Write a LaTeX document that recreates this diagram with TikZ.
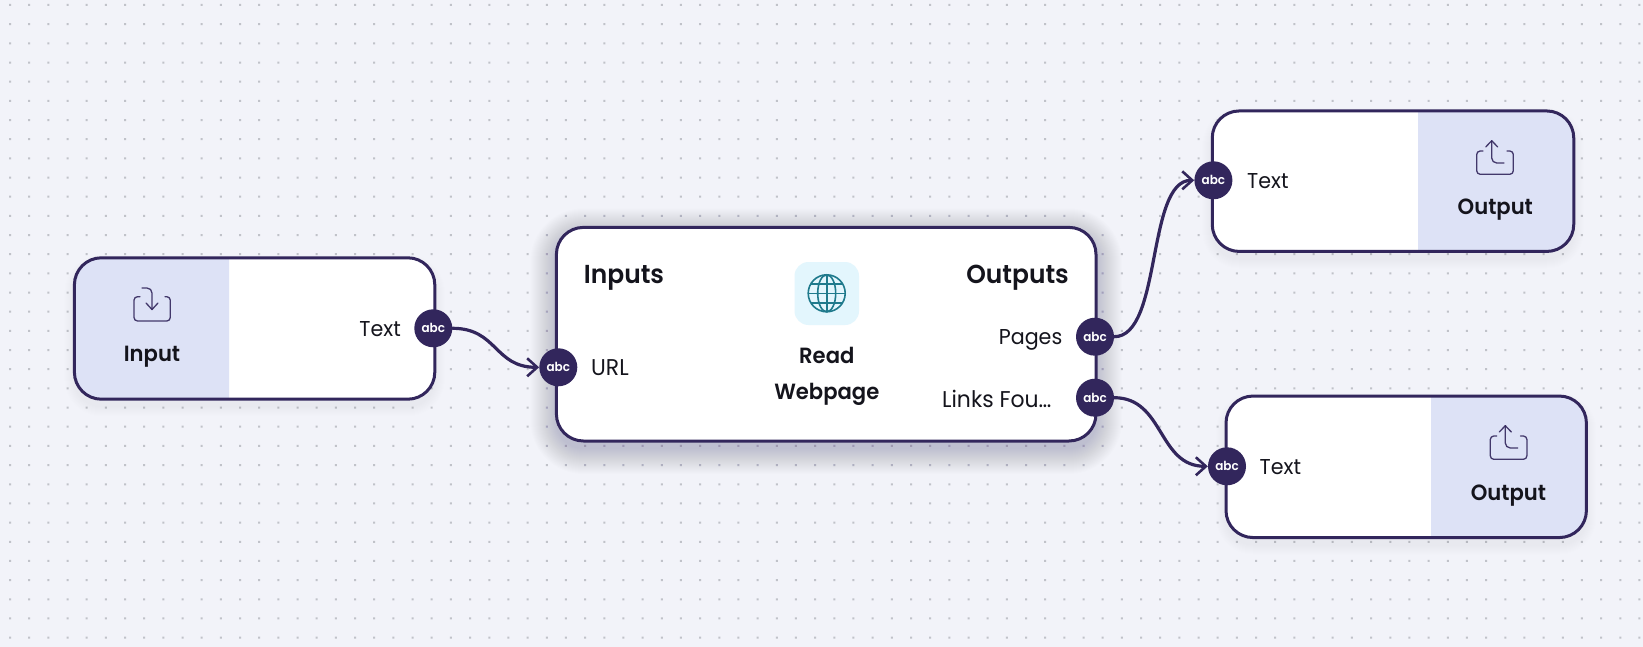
\documentclass[tikz,border=0pt]{standalone}
\usepackage{fontspec}
\setmainfont{Poppins}[FakeStretch=0.96,BoldFont=* SemiBold]
\usetikzlibrary{arrows.meta,calc}
\definecolor{bgc}{HTML}{F2F3F9}
\definecolor{ink}{HTML}{32265C}
\definecolor{panelc}{HTML}{DDE2F6}
\definecolor{dotc}{HTML}{C0C2C9}
\definecolor{tilec}{HTML}{E3F6FD}
\definecolor{globec}{HTML}{1F7A8C}
\definecolor{txt}{HTML}{14141C}
\newcommand{\softshadow}[6]{%
  \foreach \k in {1,...,#5}{%
    \fill[ink,opacity=#6,rounded corners=27+\k]
      ({#1-\k},{#2-\k+7}) rectangle ({#3+\k},{#4+\k+7});}}
\tikzset{
  card/.style={draw=ink,line width=3pt,rounded corners=27,inner sep=0pt,fill=none},
  port/.style={circle,fill=ink,text=white,minimum size=38pt,inner sep=0pt,font=\fontsize{12.5}{13}\selectfont\bfseries},
  lbl/.style={text=txt,inner sep=0pt,font=\fontsize{21.5}{23}\selectfont},
  lblw/.style={text=txt,inner sep=0pt,font=\fontsize{22.8}{24}\selectfont},
  head/.style={text=txt,inner sep=0pt,font=\fontsize{26}{28}\selectfont\bfseries},
  title/.style={text=txt,inner sep=0pt,font=\fontsize{22}{24}\selectfont\bfseries},
  wire/.style={draw=ink,line width=3.2pt,line cap=round},
  wirea/.style={wire,-{Straight Barb[length=10pt,width=18pt,line width=2.6pt]}},
  icon/.style={draw=ink,line width=1.3pt,line cap=round,line join=round,opacity=.9},
}
\begin{document}
\begin{tikzpicture}[x=1pt,y=-1pt]
\useasboundingbox (0,0) rectangle (1643,647);
\fill[bgc] (0,0) rectangle (1643,647);
% dots
\fill[dotc] \foreach \i in {0,...,85}{\foreach \j in {0,...,33}{
  ({10+19.17*\i-1},{5+19.17*\j-1}) rectangle ++(2,2)}};
% shadows
\softshadow{74.4}{257.8}{434.8}{399.2}{10}{0.004}
\softshadow{1212.3}{111}{1573.8}{251.5}{10}{0.004}
\softshadow{1226}{396}{1586.4}{537.5}{10}{0.004}
\softshadow{556.4}{227.4}{1096}{441}{26}{0.0065}
% card bodies
\fill[white,rounded corners=27] (74.4,257.8) rectangle (434.8,399.2);
\fill[white,rounded corners=27] (556.4,227.4) rectangle (1096,441);
\fill[white,rounded corners=27] (1212.3,111) rectangle (1573.8,251.5);
\fill[white,rounded corners=27] (1226,396) rectangle (1586.4,537.5);
% side panels
\fill[panelc] (229,257.8) -- (229,399.2) [rounded corners=27] -- (74.4,399.2) -- (74.4,257.8) [sharp corners] -- cycle;
\fill[panelc] (1418,111) -- (1418,251.5) [rounded corners=27] -- (1573.8,251.5) -- (1573.8,111) [sharp corners] -- cycle;
\fill[panelc] (1431,396) -- (1431,537.5) [rounded corners=27] -- (1586.4,537.5) -- (1586.4,396) [sharp corners] -- cycle;
% card outlines
\node[card,minimum width=360.4pt,minimum height=141.4pt] (inputcard) at (254.6,328.5) {};
\node[card,minimum width=539.6pt,minimum height=213.6pt] (readcard) at (826.2,334.2) {};
\node[card,minimum width=361.5pt,minimum height=140.5pt] (outcardA) at (1393,181.2) {};
\node[card,minimum width=360.4pt,minimum height=141.5pt] (outcardB) at (1406.2,466.8) {};
% input icon
\draw[icon,rounded corners=3.5] (140,296.7) -- (134,296.7) -- (134,321) -- (170.3,321) -- (170.3,296.7) -- (165,296.7);
\draw[icon,rounded corners=5] (142,288) -- (152,288) -- (152,309.5);
\draw[icon] (146,303) -- (152,309.5) -- (158,303);
% output icons
\foreach \dx/\dy in {0/0,13.6/285}{
\begin{scope}[shift={(\dx,\dy)}]
\draw[icon,rounded corners=3.5] (1483,151) -- (1476.7,151) -- (1476.7,174.3) -- (1513.3,174.3) -- (1513.3,151) -- (1507,151);
\draw[icon,rounded corners=5] (1504,163) -- (1491.7,163) -- (1491.7,140.7);
\draw[icon] (1485.7,147) -- (1491.7,140.7) -- (1497.7,147);
\end{scope}}
% globe tile
\fill[tilec,rounded corners=14] (794.5,262) rectangle (859,325);
\begin{scope}[shift={(826.7,293.3)},globec,line width=1.6pt]
\draw (0,0) circle (18.5);
\draw (0,0) ellipse (9 and 18.5);
\draw (0,-18.5) -- (0,18.5);
\draw (-18.5,0) -- (18.5,0);
\draw (-15.6,-9.5) -- (15.6,-9.5);
\draw (-15.6,9.5) -- (15.6,9.5);
\end{scope}
% labels
\node[title] (inputtitle) at (152,357) {Input};
\node[title] (outAtitle) at (1495.3,210) {Output};
\node[title] (outBtitle) at (1508.5,495.5) {Output};
\node[head,anchor=west] (inputs) at (583.7,278) {Inputs};
\node[head,anchor=east] (outputs) at (1069,278) {Outputs};
\node[title] (readt) at (826.8,355) {Read};
\node[title] (webt) at (826.8,394) {Webpage};
\node[lbl,anchor=east] (textin) at (401,329) {Text};
\node[lblw,anchor=west] (url) at (591,368) {URL};
\node[lbl,anchor=east] (pages) at (1062.5,339.5) {Pages};
\node[lblw,anchor=east] (links) at (1051.5,398.5) {Links Fou…};
\node[lbl,anchor=west] (textA) at (1247,181.5) {Text};
\node[lbl,anchor=west] (textB) at (1259.5,467.5) {Text};
% ports
\node[port] (pText) at (433.3,328.3) {abc};
\node[port] (pURL) at (558.3,367.3) {abc};
\node[port] (pPages) at (1095,336.7) {abc};
\node[port] (pLinks) at (1095,397.7) {abc};
\node[port] (pA) at (1213.4,180.3) {abc};
\node[port] (pB) at (1227,466.3) {abc};
% connectors
\draw[wirea] (pText.east) .. controls +(45,0) and ($(pURL.west)+(-45,0)$) .. (pURL.west);
\draw[wirea] (pPages.east) .. controls +(48,0) and ($(pA.west)+(-48,0)$) .. (pA.west);
\draw[wirea] (pLinks.east) .. controls +(50,0) and ($(pB.west)+(-50,0)$) .. (pB.west);
\end{tikzpicture}
\end{document}
